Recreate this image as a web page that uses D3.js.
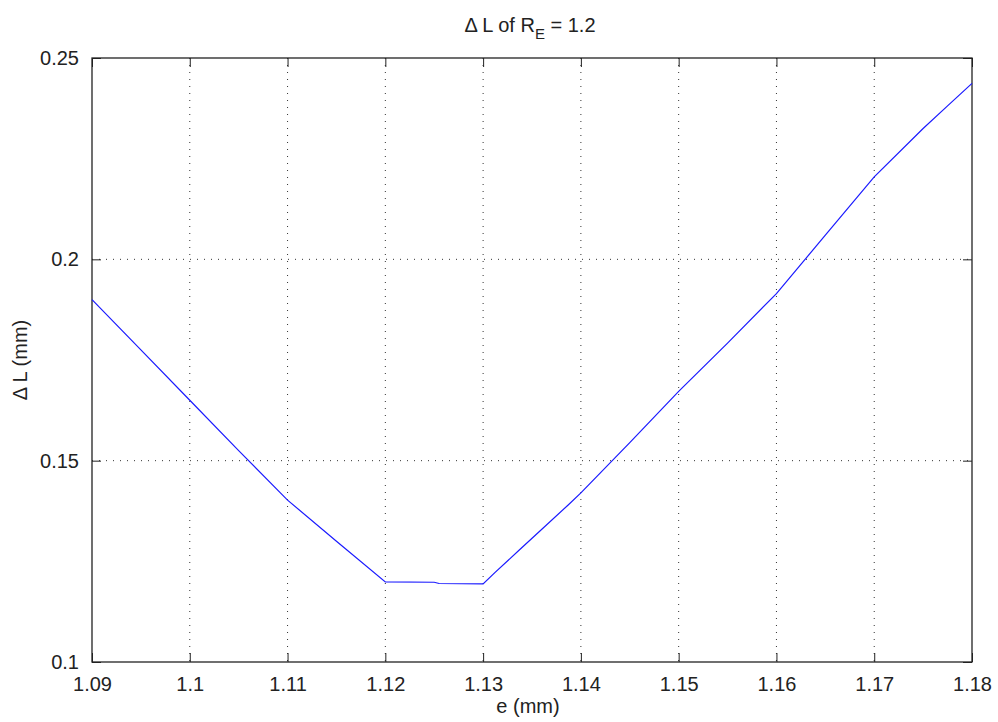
<!DOCTYPE html>
<html>
<head>
<meta charset="utf-8">
<script src="https://cdn.jsdelivr.net/npm/d3@7"></script>
<style>
  body { margin: 0; background: #fff; }
  text { font-family: "Liberation Sans", Arial, sans-serif; fill: #222; }
</style>
</head>
<body>
<div id="chart"></div>
<script>
'use strict'

// data
const eVals = [1.09, 1.095, 1.10, 1.105, 1.11, 1.115, 1.12, 1.125, 1.1255, 1.13,
               1.1312, 1.1337, 1.1362, 1.1387, 1.14, 1.145, 1.15, 1.155, 1.16,
               1.165, 1.17, 1.175, 1.1775, 1.18]
const dlVals = [0.190, 0.1775, 0.165, 0.1525, 0.1402, 0.1300, 0.1199, 0.1198, 0.1195, 0.1194,
                0.1222, 0.1278, 0.1334, 0.1390, 0.1420, 0.1545, 0.1672, 0.1792, 0.1915,
                0.2060, 0.2205, 0.2325, 0.2381, 0.2437]

const xTicks = [1.09, 1.10, 1.11, 1.12, 1.13, 1.14, 1.15, 1.16, 1.17, 1.18]
const xTickLabels = ['1.09', '1.1', '1.11', '1.12', '1.13', '1.14', '1.15', '1.16', '1.17', '1.18']
const yTicks = [0.10, 0.15, 0.20, 0.25]
const yTickLabels = ['0.1', '0.15', '0.2', '0.25']

////////////////////////////////////
//////////// svg setup /////////////
////////////////////////////////////

const svgWidth = 998
const svgHeight = 722
const margin = { left: 92, right: 26, top: 58, bottom: 60 }
const width = svgWidth - margin.left - margin.right
const height = svgHeight - margin.top - margin.bottom

const svg = d3.select('#chart').append('svg')
    .attr('width', svgWidth)
    .attr('height', svgHeight)

const g = svg.append('g')
    .attr('transform', `translate(${margin.left},${margin.top})`)

const x = d3.scaleLinear().domain([1.09, 1.18]).range([0, width])
const y = d3.scaleLinear().domain([0.10, 0.25]).range([height, 0])

// grid
g.append('g').selectAll('line')
    .data(xTicks.slice(1, -1))
    .join('line')
    .attr('x1', d => x(d)).attr('x2', d => x(d))
    .attr('y1', 0).attr('y2', height)
    .attr('stroke', '#333').attr('stroke-width', 1)
    .attr('stroke-dasharray', '1,6')

g.append('g').selectAll('line')
    .data(yTicks.slice(1, -1))
    .join('line')
    .attr('y1', d => y(d)).attr('y2', d => y(d))
    .attr('x1', 0).attr('x2', width)
    .attr('stroke', '#333').attr('stroke-width', 1)
    .attr('stroke-dasharray', '1,6')

// axes, ticks inside like matlab
const fmtX = d => xTickLabels[xTicks.indexOf(d)]
const fmtY = d => yTickLabels[yTicks.indexOf(d)]

const styleAxis = sel => {
    sel.select('.domain').remove()
    sel.selectAll('line').attr('stroke', '#222')
    sel.selectAll('text').style('font-size', '20px').attr('fill', '#222')
}

g.append('g')
    .attr('transform', `translate(0,${height})`)
    .call(d3.axisBottom(x).tickValues(xTicks).tickFormat(fmtX).tickSizeInner(-9).tickPadding(15).tickSizeOuter(0))
    .call(styleAxis)

g.append('g')
    .call(d3.axisTop(x).tickValues(xTicks).tickFormat('').tickSizeInner(-9).tickSizeOuter(0))
    .call(styleAxis)

g.append('g')
    .call(d3.axisLeft(y).tickValues(yTicks).tickFormat(fmtY).tickSizeInner(-9).tickPadding(13).tickSizeOuter(0))
    .call(styleAxis)

g.append('g')
    .attr('transform', `translate(${width},0)`)
    .call(d3.axisRight(y).tickValues(yTicks).tickFormat('').tickSizeInner(-9).tickSizeOuter(0))
    .call(styleAxis)

// frame
g.append('rect')
    .attr('x', 0).attr('y', 0)
    .attr('width', width).attr('height', height)
    .attr('fill', 'none')
    .attr('stroke', '#222').attr('stroke-width', 1.3)

// the curve
const pts = eVals.map((e, i) => [e, dlVals[i]])
g.append('path')
    .datum(pts)
    .attr('fill', 'none')
    .attr('stroke', '#1a1aff')
    .attr('stroke-width', 1.2)
    .attr('d', d3.line().x(d => x(d[0])).y(d => y(d[1])))

// title
const title = svg.append('text')
    .attr('x', margin.left + width / 2 - 2)
    .attr('y', 32)
    .attr('text-anchor', 'middle')
    .style('font-size', '20px')
title.append('tspan').text('\u0394 L of R')
title.append('tspan').attr('dy', 7).style('font-size', '15px').text('E')
title.append('tspan').attr('dy', -7).text(' = 1.2')

// axis labels
svg.append('text')
    .attr('x', margin.left + width / 2 - 4)
    .attr('y', 713)
    .attr('text-anchor', 'middle')
    .style('font-size', '20px')
    .text('e (mm)')

svg.append('text')
    .attr('transform', `translate(27,${margin.top + height / 2}) rotate(-90)`)
    .attr('text-anchor', 'middle')
    .style('font-size', '20px')
    .text('\u0394 L (mm)')
</script>
</body>
</html>
